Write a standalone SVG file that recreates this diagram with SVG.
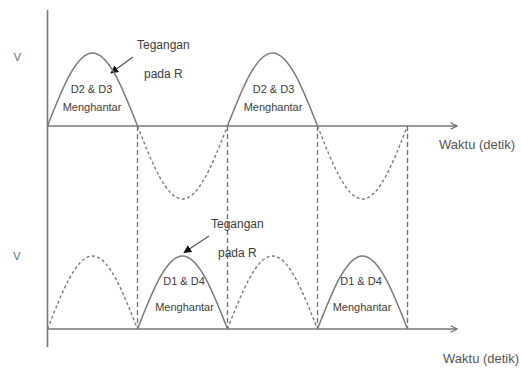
<svg xmlns="http://www.w3.org/2000/svg" width="521" height="369" viewBox="0 0 521 369">
<defs>
<style>
.ax{stroke:#777;stroke-width:1.6;fill:none}
.wave{stroke:#7a7a7a;stroke-width:1.5;fill:none}
.dwave{stroke:#7a7a7a;stroke-width:1.4;fill:none;stroke-dasharray:3 2.5}
.vdash{stroke:#6e6e6e;stroke-width:1.3;fill:none;stroke-dasharray:5 3}
.ptr{stroke:#555;stroke-width:1.2;fill:none}
text{font-family:"Liberation Sans",Arial,sans-serif;fill:#3c3c3c}
.sm{font-size:11px;text-anchor:middle}
.md{font-size:12px}
.lg{font-size:13px;fill:#555}
.v{font-size:11px;fill:#666;text-anchor:middle}
</style>
<marker id="open" viewBox="0 0 10 10" refX="9" refY="5" markerWidth="8" markerHeight="8" markerUnits="userSpaceOnUse" orient="auto">
<path d="M1,1 L9,5 L1,9" fill="none" stroke="#6e6e6e" stroke-width="1.5"/>
</marker>
<marker id="tri" viewBox="0 0 10 10" refX="9" refY="5" markerWidth="8" markerHeight="8" markerUnits="userSpaceOnUse" orient="auto">
<path d="M0,0 L10,5 L0,10 Z" fill="#111"/>
</marker>
</defs>
<g id="connectors">
<line class="ax" x1="47.5" y1="10" x2="47.5" y2="347"/>
<line class="ax" x1="47.5" y1="126" x2="457" y2="126" marker-end="url(#open)"/>
<line class="ax" x1="47.5" y1="329" x2="457" y2="329" marker-end="url(#open)"/>
<line class="vdash" x1="137.5" y1="126" x2="137.5" y2="329"/>
<line class="vdash" x1="227.5" y1="126" x2="227.5" y2="329"/>
<line class="vdash" x1="317.5" y1="126" x2="317.5" y2="329"/>
<line class="vdash" x1="407.5" y1="126" x2="407.5" y2="329"/>
<line class="ptr" x1="133" y1="57" x2="111" y2="73" marker-end="url(#tri)"/>
<line class="ptr" x1="209" y1="236" x2="184" y2="252.5" marker-end="url(#tri)"/>
</g>
<g id="top-waves">
<path class="wave" d="M47.5,126 C62.18,88.6 76.21,53 92.5,53 C108.79,53 122.82,88.6 137.5,126"/>
<path class="wave" d="M227.5,126 C242.18,88.6 256.21,53 272.5,53 C288.79,53 302.82,88.6 317.5,126"/>
<path class="dwave" d="M137.5,126 C152.18,163.4 166.21,199 182.5,199 C198.79,199 212.82,163.4 227.5,126"/>
<path class="dwave" d="M317.5,126 C332.18,163.4 346.21,199 362.5,199 C378.79,199 392.82,163.4 407.5,126"/>
</g>
<g id="bottom-waves">
<path class="dwave" d="M47.5,329 C62.18,291.6 76.21,256 92.5,256 C108.79,256 122.82,291.6 137.5,329"/>
<path class="dwave" d="M227.5,329 C242.18,291.6 256.21,256 272.5,256 C288.79,256 302.82,291.6 317.5,329"/>
<path class="wave" d="M137.5,329 C152.18,291.6 166.21,256 182.5,256 C198.79,256 212.82,291.6 227.5,329"/>
<path class="wave" d="M317.5,329 C332.18,291.6 346.21,256 362.5,256 C378.79,256 392.82,291.6 407.5,329"/>
</g>
<g id="labels">
<text class="v" x="17.5" y="61">V</text>
<text class="v" x="17" y="260">V</text>
<text class="md" x="137" y="49">Tegangan</text>
<text class="md" x="144" y="78">pada R</text>
<text class="md" x="211" y="228">Tegangan</text>
<text class="md" x="218" y="257">pada R</text>
<text class="sm" x="91.5" y="93">D2 &amp; D3</text>
<text class="sm" x="92" y="111">Menghantar</text>
<text class="sm" x="273.5" y="93">D2 &amp; D3</text>
<text class="sm" x="273" y="111">Menghantar</text>
<text class="sm" x="184" y="285">D1 &amp; D4</text>
<text class="sm" x="184.5" y="311">Menghantar</text>
<text class="sm" x="361" y="285">D1 &amp; D4</text>
<text class="sm" x="362" y="311">Menghantar</text>
<text class="lg" x="439" y="149">Waktu (detik)</text>
<text class="lg" x="443" y="363">Waktu (detik)</text>
</g>
</svg>
